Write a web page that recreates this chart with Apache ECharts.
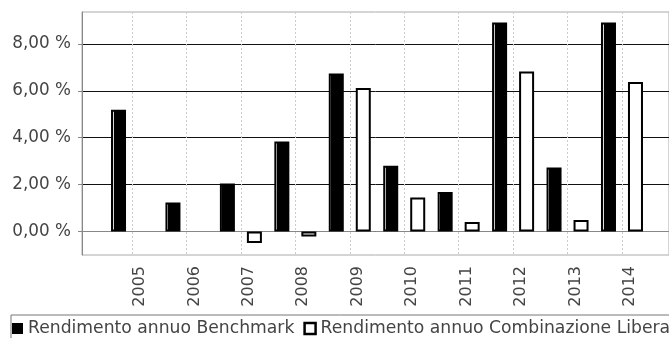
<!DOCTYPE html>
<html>
<head>
<meta charset="utf-8">
<script src="https://cdn.jsdelivr.net/npm/echarts@6/dist/echarts.min.js"></script>
<style>
  html, body { margin: 0; padding: 0; background: #fff; }
  #chart { width: 669px; height: 338px; }
</style>
</head>
<body>
<div id="chart"></div>
<script>
var years = ['2005', '2006', '2007', '2008', '2009', '2010', '2011', '2012', '2013', '2014'];
var benchmark = [5.19, 1.24, 2.05, 3.84, 6.74, 2.80, 1.69, 8.91, 2.73, 8.91];
var combinazione = [null, null, -0.49, -0.21, 6.12, 1.45, 0.41, 6.82, 0.49, 6.38];
var yTicks = [0, 2, 4, 6, 8];
var yMin = -1.0, yMax = 9.36;

var font = 'DejaVu Sans';
var chart = echarts.init(document.getElementById('chart'));

// barre nere con la piccola striscia chiara a sinistra
var benchFill = {
  type: 'linear', x: 0, y: 0, x2: 1, y2: 0,
  colorStops: [
    { offset: 0, color: '#000' },
    { offset: 0.1, color: '#000' },
    { offset: 0.1, color: '#ddd' },
    { offset: 0.17, color: '#ddd' },
    { offset: 0.17, color: '#000' },
    { offset: 1, color: '#000' }
  ]
};

var option = {
  animation: false,
  backgroundColor: '#fff',
  grid: [
    { left: 82, right: -1, top: 12, bottom: 83, show: true, borderColor: '#aaa', borderWidth: 1, backgroundColor: 'transparent' },
    { left: 104.8, right: 19.8, top: 12, bottom: 83 },
    // griglia verticale tratteggiata al centro delle categorie
    { left: 132, right: 47, top: 12, bottom: 83 }
  ],
  xAxis: [
    {
      gridIndex: 0, type: 'value', min: 0, max: 1, offset: 3,
      axisLine: { show: true, lineStyle: { color: '#888' } },
      axisTick: { show: false }, axisLabel: { show: false }, splitLine: { show: false }
    },
    {
      gridIndex: 1, type: 'category', data: years, offset: 3,
      axisLine: { show: false },
      axisTick: { show: false },
      splitLine: { show: false },
      axisLabel: {
        rotate: 90, margin: 8, interval: 0, verticalAlign: 'top',
        fontFamily: font, fontSize: 16, color: '#444'
      }
    },
    {
      gridIndex: 2, type: 'category', data: years, boundaryGap: false,
      axisLine: { show: false }, axisTick: { show: false }, axisLabel: { show: false },
      splitLine: { show: true, interval: 0, lineStyle: { color: '#ccc', type: [2, 2], width: 1 } }
    }
  ],
  yAxis: [
    {
      gridIndex: 0, type: 'value', min: yMin, max: yMax, offset: 3,
      axisLine: { show: true, lineStyle: { color: '#888' } },
      axisTick: { show: true, length: 4, lineStyle: { color: '#888' } },
      axisLabel: {
        margin: 8, fontFamily: font, fontSize: 16.8, color: '#444',
        showMinLabel: false, showMaxLabel: false,
        formatter: function (v) {
          return yTicks.indexOf(v) >= 0 ? v.toFixed(2).replace('.', ',') + ' %' : '';
        }
      },
      splitLine: { show: true, showMinLine: false, showMaxLine: false, lineStyle: { color: '#111', width: 1 } }
    },
    {
      gridIndex: 1, type: 'value', min: yMin, max: yMax, show: false,
      splitLine: { show: false }
    },
    {
      gridIndex: 2, type: 'value', min: yMin, max: yMax, show: false,
      splitLine: { show: false }
    }
  ],
  legend: {
    left: 11, top: 315, width: 740,
    padding: [5, 30, 12, 1],
    itemWidth: 11, itemHeight: 11, itemGap: 9,
    borderColor: '#777', borderWidth: 1,
    textStyle: { fontFamily: font, fontSize: 17.2, color: '#444' },
    data: [
      { name: 'Rendimento annuo Benchmark', icon: 'rect', itemStyle: { color: '#000', borderWidth: 0 } },
      { name: 'Rendimento annuo Combinazione Libera', icon: 'rect', itemStyle: { color: '#fff', borderColor: '#000', borderWidth: 2.5 } }
    ]
  },
  series: [
    {
      name: 'Rendimento annuo Benchmark', type: 'bar',
      xAxisIndex: 1, yAxisIndex: 1,
      data: benchmark,
      barWidth: 15, barGap: '80%',
      itemStyle: { color: benchFill, borderColor: '#000', borderWidth: 2 }
    },
    {
      name: 'Rendimento annuo Combinazione Libera', type: 'bar',
      xAxisIndex: 1, yAxisIndex: 1,
      data: combinazione,
      barWidth: 15, barGap: '80%',
      itemStyle: { color: '#fff', borderColor: '#000', borderWidth: 2 }
    }
  ]
};

chart.setOption(option);
</script>
</body>
</html>
